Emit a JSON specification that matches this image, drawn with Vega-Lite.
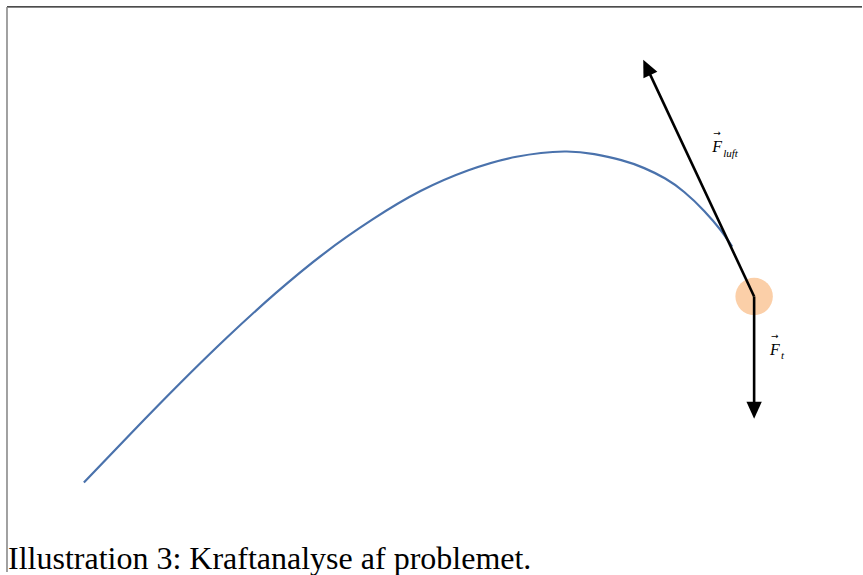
{
  "$schema": "https://vega.github.io/schema/vega-lite/v6.json",
  "width": 863,
  "height": 575,
  "autosize": {"type": "fit", "contains": "padding"},
  "padding": 0,
  "background": "white",
  "config": {"view": {"stroke": null}},
  "datasets": {
    "frameTop": [{"x": 7, "x2": 863, "y": 7}],
    "frameLeft": [{"x": 7, "y": 7, "y2": 575}],
    "curve": [
      {"x": 84, "y": 485},
      {"x": 132, "y": 434.7},
      {"x": 180, "y": 385.5},
      {"x": 228, "y": 338.5},
      {"x": 276, "y": 294.7},
      {"x": 324, "y": 255.1},
      {"x": 373, "y": 220.6},
      {"x": 421, "y": 192.1},
      {"x": 469, "y": 171.2},
      {"x": 517, "y": 157.6},
      {"x": 565, "y": 152.3},
      {"x": 595, "y": 155},
      {"x": 622, "y": 161},
      {"x": 645, "y": 169},
      {"x": 666, "y": 179.5},
      {"x": 685, "y": 193},
      {"x": 705, "y": 212},
      {"x": 722, "y": 232},
      {"x": 733, "y": 248}
    ],
    "ball": [{"x": 755, "y": 298}],
    "shaftUp": [{"x": 755, "y": 298, "x2": 650, "y2": 73}],
    "headUp": [{"x": 644, "y": 60}],
    "shaftDown": [{"x": 755, "y": 298, "x2": 755, "y2": 410}],
    "headDown": [{"x": 755, "y": 421}],
    "labelF": [{"x": 713, "y": 153, "t": "F"}, {"x": 771, "y": 357, "t": "F"}],
    "labelArrow": [{"x": 714, "y": 137, "t": "→"}, {"x": 772, "y": 341, "t": "→"}],
    "labelSub": [{"x": 724, "y": 158, "t": "luft"}, {"x": 782, "y": 361, "t": "t"}],
    "caption": [{"x": 8, "y": 572, "t": "Illustration 3: Kraftanalyse af problemet."}]
  },
  "layer": [
    {
      "data": {"name": "frameTop"},
      "mark": {"type": "rule", "color": "#111111", "strokeWidth": 1.3},
      "encoding": {
        "x": {"field": "x", "type": "quantitative", "scale": {"domain": [0, 863], "nice": false, "zero": false}, "axis": null},
        "x2": {"field": "x2"},
        "y": {"field": "y", "type": "quantitative", "scale": {"domain": [0, 575], "nice": false, "zero": false, "reverse": true}, "axis": null}
      }
    },
    {
      "data": {"name": "frameLeft"},
      "mark": {"type": "rule", "color": "#8a8a8a", "strokeWidth": 1.6},
      "encoding": {
        "x": {"field": "x", "type": "quantitative"},
        "y": {"field": "y", "type": "quantitative"},
        "y2": {"field": "y2"}
      }
    },
    {
      "data": {"name": "curve"},
      "mark": {"type": "line", "color": "#4a72ac", "strokeWidth": 2.2, "interpolate": "natural"},
      "encoding": {
        "x": {"field": "x", "type": "quantitative"},
        "y": {"field": "y", "type": "quantitative"}
      }
    },
    {
      "data": {"name": "ball"},
      "mark": {"type": "point", "shape": "circle", "filled": true, "color": "#fbcfa8", "opacity": 1, "size": 1400},
      "encoding": {
        "x": {"field": "x", "type": "quantitative"},
        "y": {"field": "y", "type": "quantitative"}
      }
    },
    {
      "data": {"name": "shaftUp"},
      "mark": {"type": "rule", "color": "#000000", "strokeWidth": 2.6},
      "encoding": {
        "x": {"field": "x", "type": "quantitative"},
        "y": {"field": "y", "type": "quantitative"},
        "x2": {"field": "x2"},
        "y2": {"field": "y2"}
      }
    },
    {
      "data": {"name": "shaftDown"},
      "mark": {"type": "rule", "color": "#000000", "strokeWidth": 2.6},
      "encoding": {
        "x": {"field": "x", "type": "quantitative"},
        "y": {"field": "y", "type": "quantitative"},
        "x2": {"field": "x2"},
        "y2": {"field": "y2"}
      }
    },
    {
      "data": {"name": "headUp"},
      "mark": {"type": "point", "shape": "M0,0L0.95,2.1L-0.95,2.1Z", "filled": true, "color": "#000000", "opacity": 1, "size": 260, "angle": 335},
      "encoding": {
        "x": {"field": "x", "type": "quantitative"},
        "y": {"field": "y", "type": "quantitative"}
      }
    },
    {
      "data": {"name": "headDown"},
      "mark": {"type": "point", "shape": "M0,0L0.95,2.1L-0.95,2.1Z", "filled": true, "color": "#000000", "opacity": 1, "size": 260, "angle": 180},
      "encoding": {
        "x": {"field": "x", "type": "quantitative"},
        "y": {"field": "y", "type": "quantitative"}
      }
    },
    {
      "data": {"name": "labelF"},
      "mark": {"type": "text", "font": "Liberation Serif", "fontStyle": "italic", "fontSize": 16, "align": "left", "baseline": "alphabetic", "color": "#000000"},
      "encoding": {
        "x": {"field": "x", "type": "quantitative"},
        "y": {"field": "y", "type": "quantitative"},
        "text": {"field": "t"}
      }
    },
    {
      "data": {"name": "labelArrow"},
      "mark": {"type": "text", "font": "DejaVu Sans", "fontSize": 9, "align": "left", "baseline": "alphabetic", "color": "#000000"},
      "encoding": {
        "x": {"field": "x", "type": "quantitative"},
        "y": {"field": "y", "type": "quantitative"},
        "text": {"field": "t"}
      }
    },
    {
      "data": {"name": "labelSub"},
      "mark": {"type": "text", "font": "Liberation Serif", "fontStyle": "italic", "fontSize": 11, "align": "left", "baseline": "alphabetic", "color": "#000000"},
      "encoding": {
        "x": {"field": "x", "type": "quantitative"},
        "y": {"field": "y", "type": "quantitative"},
        "text": {"field": "t"}
      }
    },
    {
      "data": {"name": "caption"},
      "mark": {"type": "text", "font": "Liberation Serif", "fontSize": 32, "align": "left", "baseline": "alphabetic", "color": "#000000"},
      "encoding": {
        "x": {"field": "x", "type": "quantitative"},
        "y": {"field": "y", "type": "quantitative"},
        "text": {"field": "t"}
      }
    }
  ]
}
